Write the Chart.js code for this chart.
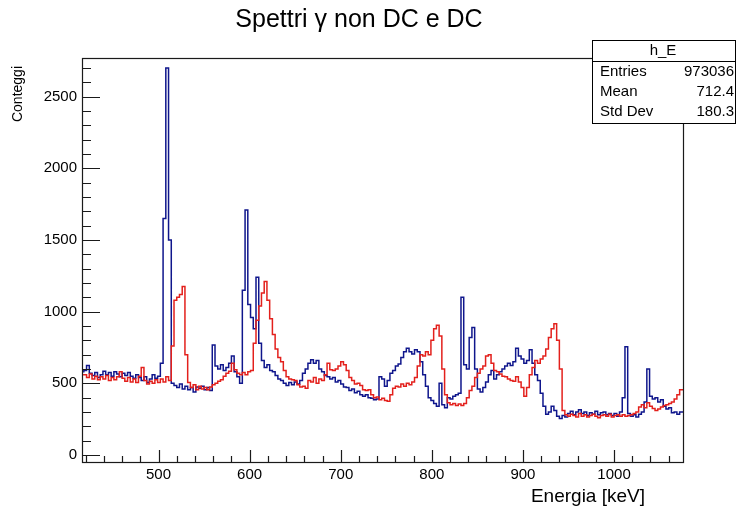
<!DOCTYPE html>
<html>
<head>
<meta charset="utf-8">
<title>Spettri γ non DC e DC</title>
<script src="https://cdn.jsdelivr.net/npm/chart.js@4.4.1/dist/chart.umd.min.js"></script>
<style>
  html, body { margin: 0; padding: 0; background: #fff; }
  #wrap { width: 736px; height: 510px; }
</style>
</head>
<body>
<div id="wrap"><canvas id="spettri" width="736" height="510"></canvas></div>
<script>
// histogram binning (keV)
const binStart = 418;
const binWidth = 3;

// blue: spettro non DC
const nonDC = [
  575, 590, 625, 570, 555, 575, 540, 560, 585, 560,
  575, 550, 580, 565, 545, 570, 555, 575, 550, 535,
  560, 540, 520, 545, 505, 530, 560, 535, 550, 640,
  1650, 2700, 1500, 500, 485, 470, 495, 460, 480, 455,
  470, 440, 475, 465, 480, 455, 470, 450, 768, 620,
  600, 630, 590, 610, 640, 690, 580, 545, 500, 1150,
  1710, 1050, 960, 880, 1240, 780, 660, 610, 630, 590,
  580, 555, 530, 520, 500, 485, 505, 490, 510, 495,
  520, 570, 600, 640, 665, 640, 660, 600, 580, 555,
  545, 530, 540, 510, 520, 495, 475, 470, 450, 460,
  435, 445, 420, 410, 420, 400, 395, 385, 390, 545,
  530, 480, 520, 570, 590, 620, 635, 680, 720, 745,
  720, 705, 735, 720, 650, 560, 480, 400, 380, 360,
  340, 500, 350, 330, 400, 390, 410, 420, 430, 1100,
  630, 600, 820, 890, 600, 460, 440, 470, 510, 560,
  590, 530, 560, 580, 600, 620, 640, 625, 650, 745,
  690, 670, 640, 660, 735, 640, 560, 520, 430, 340,
  285, 300, 340, 310, 270, 255, 275, 265, 290, 305,
  280, 300, 315, 290, 300, 275, 295, 285, 305, 280,
  295, 300, 280, 290, 275, 290, 270, 300, 400, 755,
  290, 270, 280, 265, 285, 300, 370, 600, 410, 390,
  400, 370, 385, 340, 320, 330, 295, 300, 285, 300
];

// red: spettro DC
const dc = [
  555, 560, 540, 565, 530, 550, 525, 545, 530, 555,
  520, 540, 525, 545, 580, 535, 515, 540, 510, 530,
  505, 550, 610, 520, 495, 515, 500, 525, 505, 530,
  510, 545, 520, 760, 1080, 1100, 1120, 1175, 700, 505,
  470, 490, 455, 480, 460, 470, 455, 475, 490, 500,
  515, 525, 550, 570, 585, 640, 595, 570, 560, 575,
  560, 580, 590, 780, 940, 1040, 1130, 1210, 1080, 950,
  840, 740, 680, 650, 590, 545, 530, 525, 520, 490,
  475, 480, 465, 520, 510, 540, 500, 530, 520, 560,
  640, 595, 590, 600, 620, 650, 630, 590, 540, 520,
  495, 500, 485, 455, 450, 455, 420, 400, 405, 385,
  395, 380, 375, 420, 465, 480, 475, 495, 480, 500,
  490, 510, 540, 620, 700, 690, 720, 700, 800, 880,
  905, 830, 600, 420, 365, 350, 360, 345, 355, 345,
  360, 400, 450, 480, 540, 570, 600, 620, 690, 700,
  640, 590, 580, 565, 550, 545, 530, 520, 515, 545,
  510, 470, 410, 470, 560, 610, 660, 640, 670, 690,
  740, 820, 880, 915, 800, 600, 310, 280, 270, 285,
  275, 265, 290, 270, 280, 265, 275, 285, 270, 260,
  275, 280, 270, 285, 265, 275, 280, 270, 280, 270,
  275, 280, 290, 300, 335, 350, 330, 365, 340, 325,
  310, 320, 335, 345, 350, 360, 370, 390, 420, 455
];

const xTicks = [500, 600, 700, 800, 900, 1000];
const yTicks = [0, 500, 1000, 1500, 2000, 2500];
const statsTitle = 'h_E';
const statsLabels = ['Entries', 'Mean', 'Std Dev'];
const statsValues = ['973036', '712.4', '180.3'];

const FONT = '"Liberation Sans", Arial, Helvetica, sans-serif';

// left bin edges + closing edge, drawn as 'after' steps
function toSteps(values) {
  const pts = values.map((v, i) => ({ x: binStart + i * binWidth, y: v }));
  pts.push({ x: binStart + values.length * binWidth, y: values[values.length - 1] });
  return pts;
}

// ROOT-style frame, inner ticks, titles and stats box
const rootFrame = {
  id: 'rootFrame',
  afterDatasetsDraw(chart) {
    const { ctx, chartArea: a } = chart;
    const x = chart.scales.x, y = chart.scales.y;
    ctx.save();
    ctx.strokeStyle = '#1a1a1a';
    ctx.lineWidth = 1.2;
    ctx.strokeRect(a.left + 0.5, a.top + 0.5, a.right - a.left, a.bottom - a.top);

    ctx.beginPath();
    for (let v = 0; v <= 2700; v += 100) {
      const py = Math.round(y.getPixelForValue(v)) + 0.5;
      const len = v % 500 === 0 ? 18 : 9;
      ctx.moveTo(a.left, py);
      ctx.lineTo(a.left + len, py);
    }
    for (let v = 420; v <= 1070; v += 20) {
      const px = Math.round(x.getPixelForValue(v)) + 0.5;
      const len = v % 100 === 0 ? 12 : 6;
      ctx.moveTo(px, a.bottom);
      ctx.lineTo(px, a.bottom - len);
    }
    ctx.stroke();

    ctx.fillStyle = '#000';
    // main title
    ctx.font = '25px ' + FONT;
    ctx.textAlign = 'center';
    ctx.textBaseline = 'middle';
    ctx.fillText('Spettri γ non DC e DC', 359, 20);

    // x title, right aligned
    ctx.font = '19px ' + FONT;
    ctx.textAlign = 'right';
    ctx.fillText('Energia [keV]', 645, 497);

    // y title, rotated, top aligned
    ctx.save();
    ctx.translate(18, 66);
    ctx.rotate(-Math.PI / 2);
    ctx.font = '14px ' + FONT;
    ctx.textAlign = 'right';
    ctx.fillText('Conteggi', 0, 0);
    ctx.restore();

    // stats box
    const bx = 592.5, by = 40.5, bw = 143, bh = 83;
    ctx.fillStyle = '#fff';
    ctx.fillRect(bx, by, bw, bh);
    ctx.strokeStyle = '#000';
    ctx.lineWidth = 1;
    ctx.strokeRect(bx, by, bw, bh);
    ctx.beginPath();
    ctx.moveTo(bx, 61.5);
    ctx.lineTo(bx + bw, 61.5);
    ctx.stroke();
    ctx.fillStyle = '#000';
    ctx.font = '15px ' + FONT;
    ctx.textAlign = 'center';
    ctx.fillText(statsTitle, 663, 51);
    statsLabels.forEach((lab, i) => {
      const ry = 72 + i * 20;
      ctx.textAlign = 'left';
      ctx.fillText(lab, 600, ry);
      ctx.textAlign = 'right';
      ctx.fillText(statsValues[i], 734, ry);
    });
    ctx.restore();
  }
};

new Chart(document.getElementById('spettri'), {
  type: 'line',
  data: {
    datasets: [
      { label: 'DC', data: toSteps(dc), stepped: 'after', borderColor: '#e3201c', borderWidth: 1.5, pointRadius: 0, fill: false, order: 1 },
      { label: 'non DC', data: toSteps(nonDC), stepped: 'after', borderColor: '#0f168c', borderWidth: 1.5, pointRadius: 0, fill: false, order: 2 }
    ]
  },
  options: {
    responsive: false,
    animation: false,
    layout: { padding: { left: 0, right: 53, top: 58, bottom: 0 } },
    plugins: { legend: { display: false }, tooltip: { enabled: false }, title: { display: false } },
    scales: {
      x: {
        type: 'linear', min: 416, max: 1075.7,
        grid: { display: false, drawTicks: false }, border: { display: false },
        afterBuildTicks: s => { s.ticks = xTicks.map(v => ({ value: v })); },
        afterFit: s => { s.height = 48; },
        ticks: { color: '#000', font: { family: FONT, size: 15 }, padding: 4, maxRotation: 0, callback: v => String(v) }
      },
      y: {
        type: 'linear', min: -49, max: 2770,
        grid: { display: false, drawTicks: false }, border: { display: false },
        afterBuildTicks: s => { s.ticks = yTicks.map(v => ({ value: v })); },
        afterFit: s => { s.width = 82; },
        ticks: { color: '#000', font: { family: FONT, size: 15 }, padding: 5, callback: v => String(v) }
      }
    }
  },
  plugins: [rootFrame]
});
</script>
</body>
</html>
